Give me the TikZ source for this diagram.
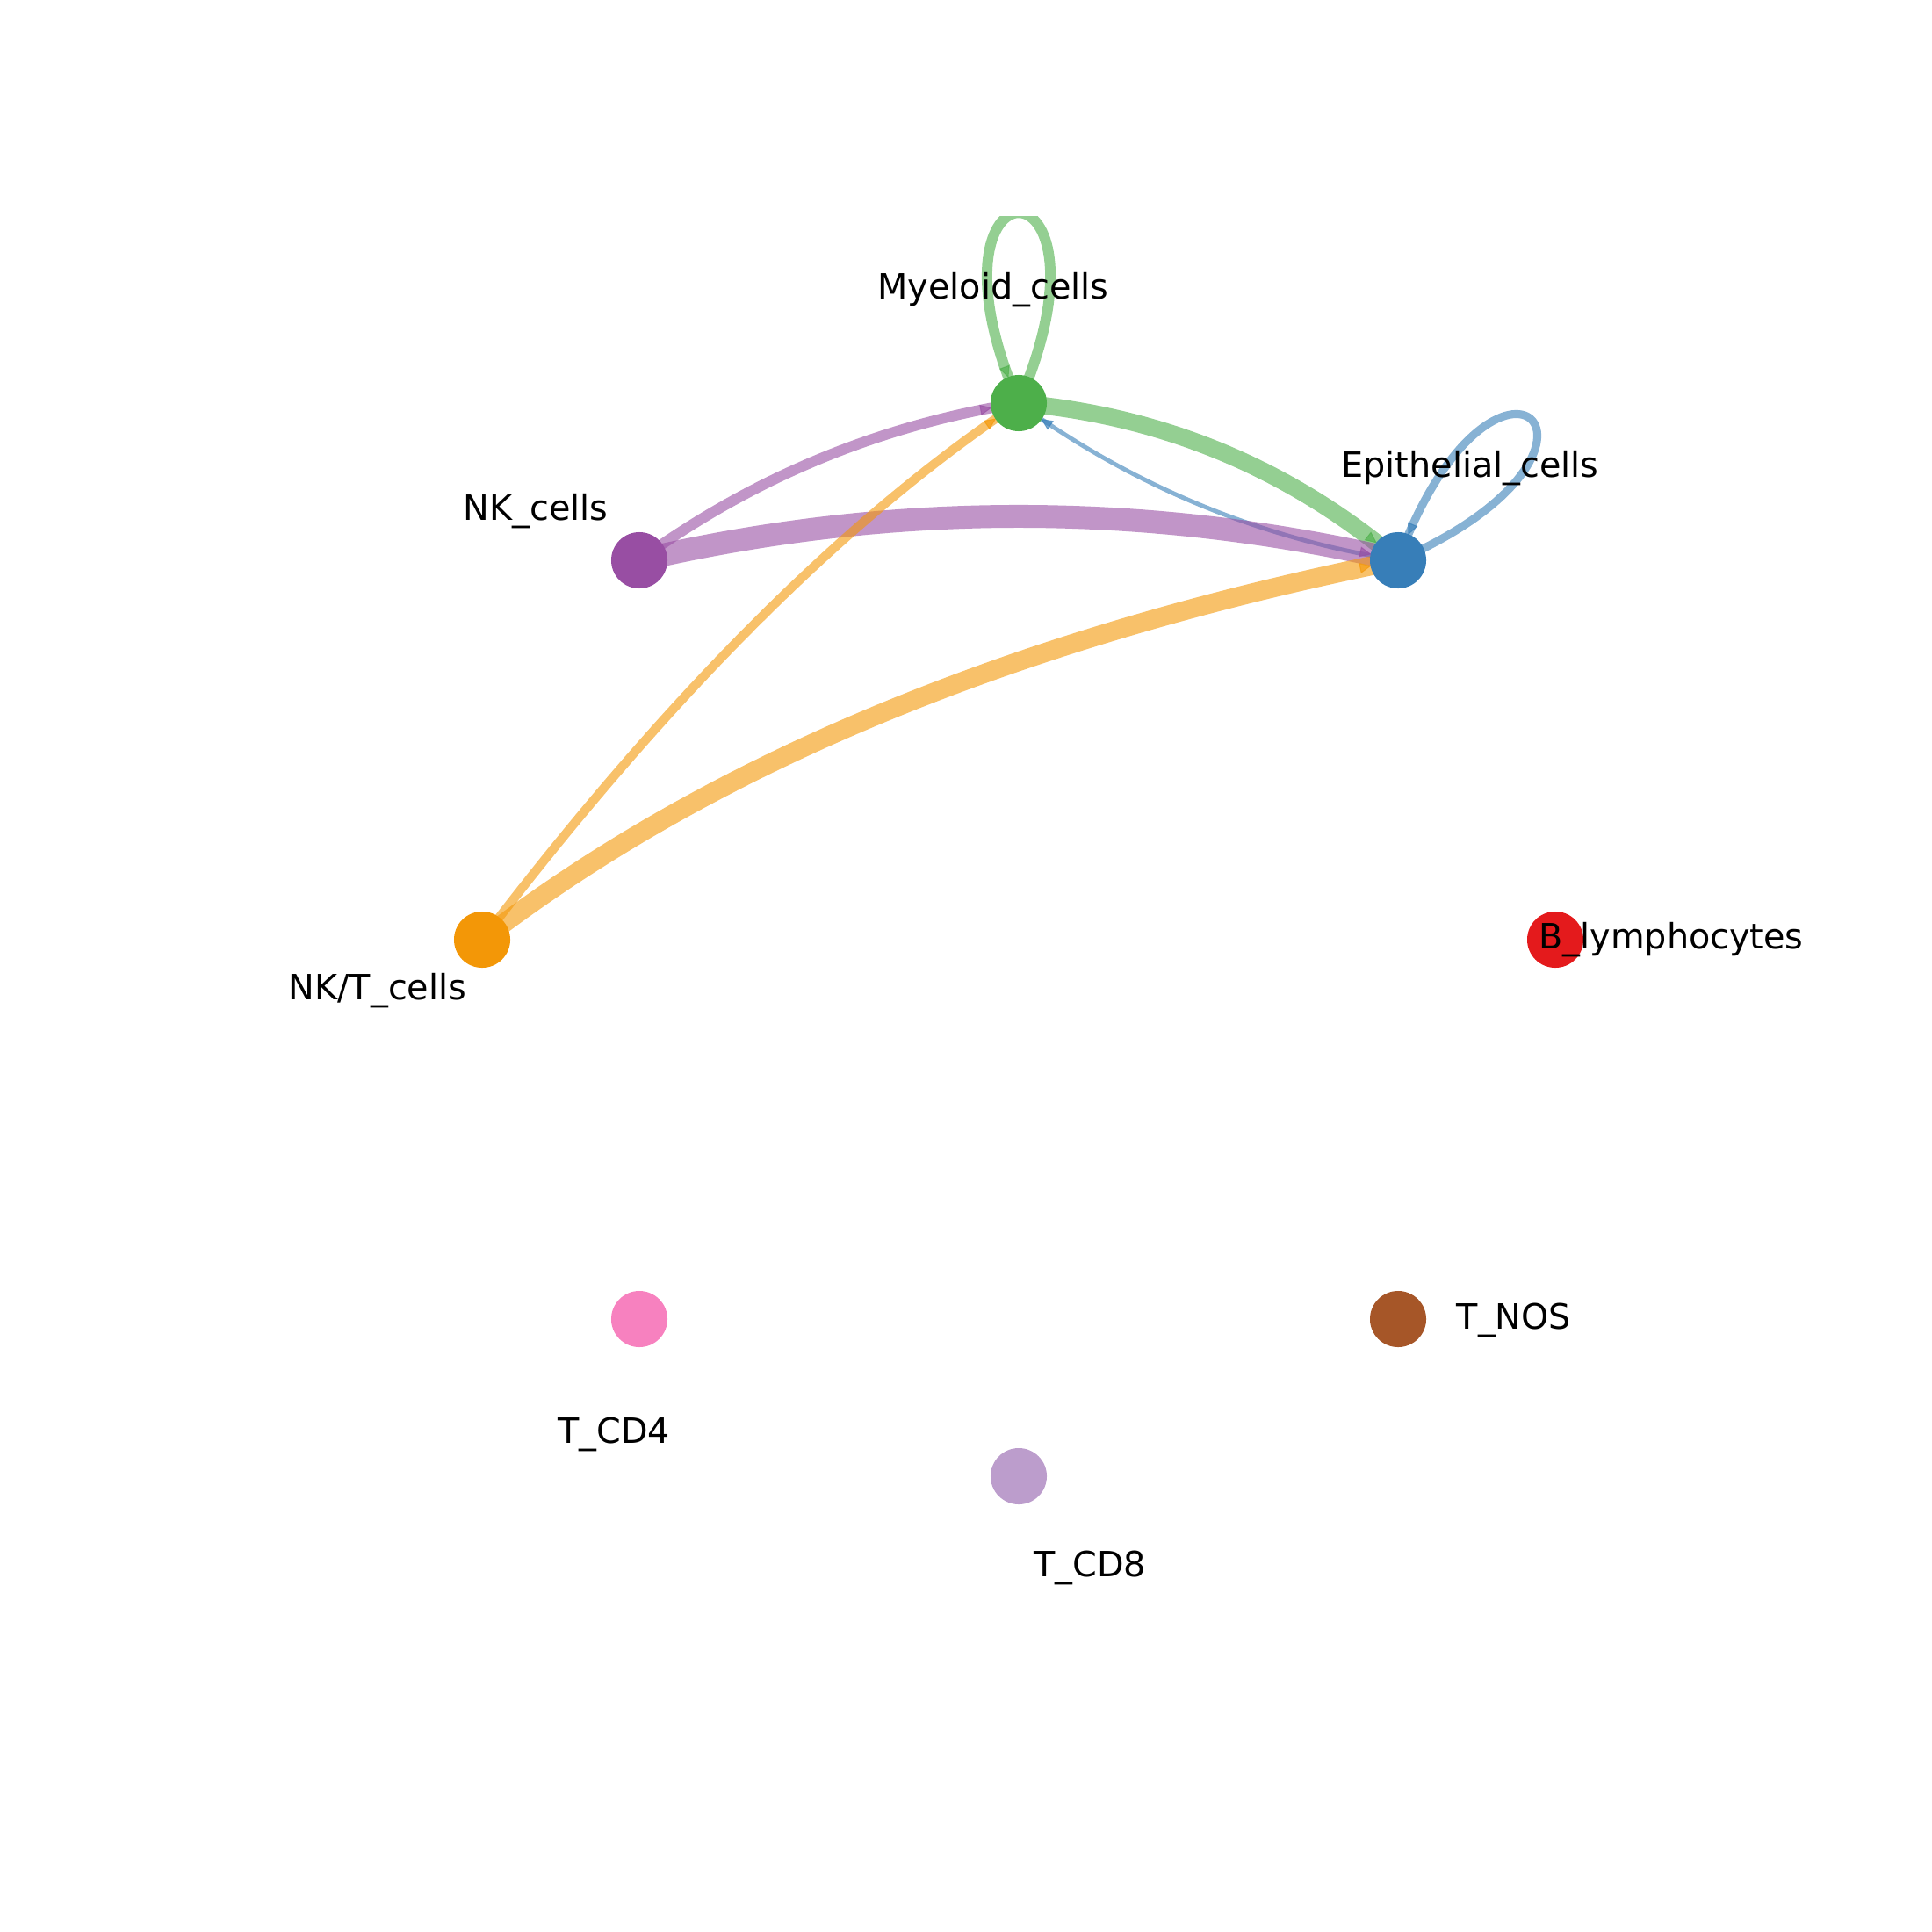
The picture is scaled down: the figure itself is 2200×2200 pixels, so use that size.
\documentclass[tikz,border=0pt]{standalone}
\usepackage{fontspec}
\setmainfont{DejaVu Sans}
\usetikzlibrary{arrows.meta,decorations.markings}
\pgfdeclarelayer{bg}
\pgfsetlayers{bg,main}
\definecolor{cred}{HTML}{E41A1C}
\definecolor{cblue}{HTML}{377EB8}
\definecolor{cgreen}{HTML}{4DAF4A}
\definecolor{cpurple}{HTML}{984EA3}
\definecolor{corange}{HTML}{F39707}
\definecolor{cbrown}{HTML}{A65628}
\definecolor{cpink}{HTML}{F781BF}
\definecolor{clav}{HTML}{BC9DCC}
\tikzset{
  cell/.style={circle, inner sep=0pt, minimum size=6.4mm, draw=none, fill=#1},
  lbl/.style={anchor=base, inner sep=0pt, font=\fontsize{11.3pt}{13pt}\selectfont},
  edge/.style={draw=#1, draw opacity=0.6, line cap=butt,
    postaction={decorate, decoration={markings,
      mark=at position -3.1mm with {\arrow[line width=0.3pt, #1, opacity=0.65]{Triangle[length=3.8pt,width=3.4pt]}}}}}
}
\begin{document}
\begin{tikzpicture}[x=0.01cm, y=-0.01cm]
\useasboundingbox (0,0) rectangle (2200,2200);
% nodes
\node[cell=cgreen]  (my)  at (1160,459) {};
\node[cell=cblue]   (ep)  at (1592,638) {};
\node[cell=cred]    (bl)  at (1771,1070) {};
\node[cell=cbrown]  (tn)  at (1592,1502) {};
\node[cell=clav]    (t8)  at (1160,1681) {};
\node[cell=cpink]   (t4)  at (728,1502) {};
\node[cell=corange] (nkt) at (549,1070) {};
\node[cell=cpurple] (nk)  at (728,638) {};
% edges
\begin{pgfonlayer}{bg}
\begin{scope}
\clip (0,246) rectangle (2200,2200);
% self loops
\draw[edge=cgreen, line width=3.4pt] (my.center) .. controls (1285,170) and (1035,170) .. (my.center);
\draw[edge=cblue, line width=2.6pt] (ep.center) .. controls (1885,510) and (1703,338) .. (ep.center);
% Myeloid -> Epithelial
\draw[edge=cgreen, line width=5.6pt] (my.center) .. controls (1322.9,473.1) and (1466.9,532.7) .. (ep.center);
% Epithelial -> Myeloid
\draw[edge=cblue, line width=1.4pt] (ep.center) .. controls (1433.7,612.9) and (1289.7,553.2) .. (my.center);
% NK -> Myeloid
\draw[edge=cpurple, line width=3.4pt] (nk.center) .. controls (857.7,543.8) and (1001.7,484.1) .. (my.center);
% NK -> Epithelial
\draw[edge=cpurple, line width=7.4pt] (nk.center) .. controls (1016,571.3) and (1304,571.3) .. (ep.center);
% NK/T -> Myeloid
\draw[edge=corange, line width=2.9pt] (nkt.center) .. controls (760.1,792.9) and (963.7,589.3) .. (my.center);
% NK/T -> Epithelial
\draw[edge=corange, line width=6.2pt] (nkt.center) .. controls (809.3,869.6) and (1157,725.6) .. (ep.center);
\end{scope}
\end{pgfonlayer}
% labels
\node[lbl] (lmy)  at (1131,340)  {Myeloid\_cells};
\node[lbl] (lep)  at (1674,543)  {Epithelial\_cells};
\node[lbl] (lnk)  at (610,592)   {NK\_cells};
\node[lbl] (lnkt) at (430,1138)  {NK/T\_cells};
\node[lbl] (lbl)  at (1903,1080) {B\_lymphocytes};
\node[lbl] (ltn)  at (1724,1513) {T\_NOS};
\node[lbl] (lt4)  at (699,1643)  {T\_CD4};
\node[lbl] (lt8)  at (1241,1795) {T\_CD8};
\end{tikzpicture}
\end{document}
